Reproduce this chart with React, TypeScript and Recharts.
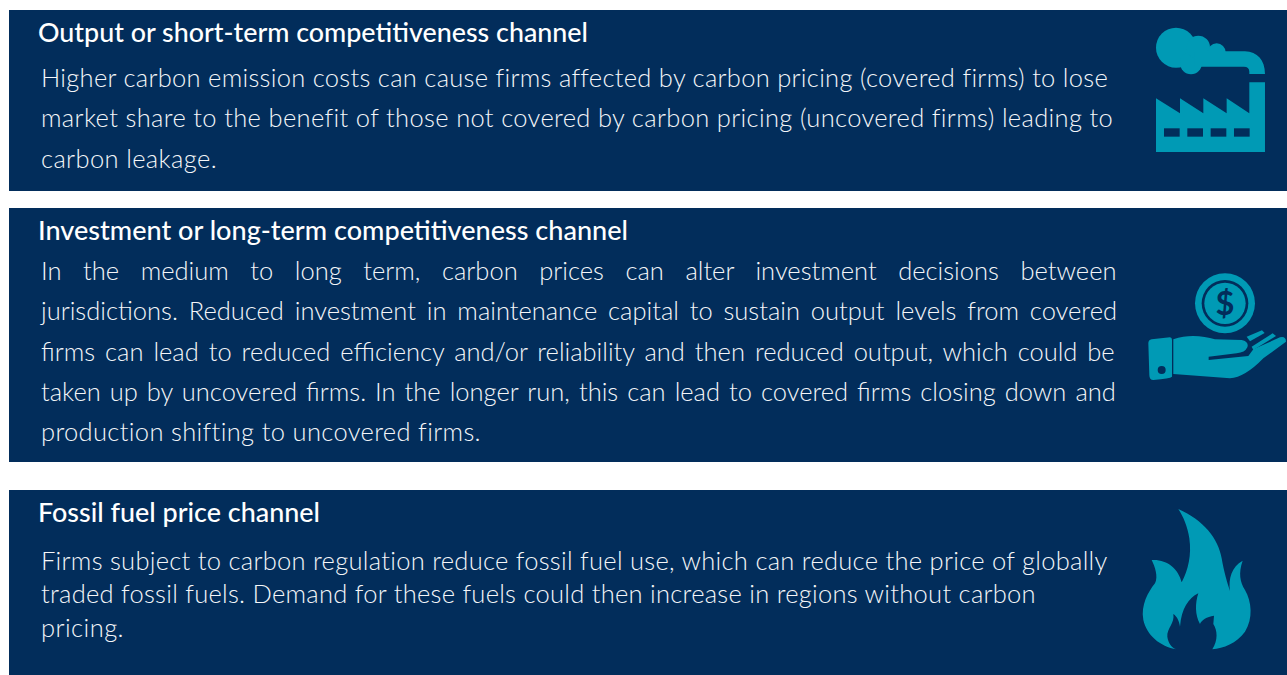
import React from 'react';
import { BarChart, Bar, XAxis, YAxis } from 'recharts';

const NAVY = '#022d5b';
const TEAL = '#009ab5';
const BODY_FONT = 'Lato';
const BODY_SIZE = 25.5;
const BODY_WEIGHT = 300;

// stacked from the bottom of the page upwards: pixel-high bands
const panelBand = [185, 254, 181];
const gapBand = [28, 17, 10];

const headings = [
  'Fossil fuel price channel',
  'Investment or long-term competitiveness channel',
  'Output or short-term competitiveness channel',
];

const bodyLines = [
  [
    'Firms subject to carbon regulation reduce fossil fuel use, which can reduce the price of globally',
    'traded fossil fuels. Demand for these fuels could then increase in regions without carbon',
    'pricing.',
  ],
  [
    'In the medium to long term, carbon prices can alter investment decisions between',
    'jurisdictions. Reduced investment in maintenance capital to sustain output levels from covered',
    'firms can lead to reduced efficiency and/or reliability and then reduced output, which could be',
    'taken up by uncovered firms. In the longer run, this can lead to covered firms closing down and',
    'production shifting to uncovered firms.',
  ],
  [
    'Higher carbon emission costs can cause firms affected by carbon pricing (covered firms) to lose',
    'market share to the benefit of those not covered by carbon pricing (uncovered firms) leading to',
    'carbon leakage.',
  ],
];

// layout per panel, offsets from the panel's top edge
const headingLayout = [
  { dy: 32, width: 282 },
  { dy: 32, width: 590 },
  { dy: 32, width: 550 },
];
const bodyLayout = [
  { dy: [80, 113, 147], right: [1109, 1037, 124], justified: [false, false, false] },
  { dy: [72, 112, 153, 193, 233], right: [1117, 1117, 1117, 1117, 480], justified: [true, true, true, true, false] },
  { dy: [77, 117, 158], right: [1107, 1113, 217], justified: [false, false, false] },
];

const tableRow: Record<string, number | string> = { name: 'panels' };
panelBand.forEach((h, i) => {
  tableRow[`panel${i}`] = h;
  tableRow[`gap${i}`] = gapBand[i];
});
const table = [tableRow];

const ctx = document.createElement('canvas').getContext('2d');

// spacing that makes a line end where it ends in the picture
const fitStyle = (line: string, width: number, justified: boolean) => {
  if (!ctx) return {};
  ctx.font = `${BODY_WEIGHT} ${BODY_SIZE}px ${BODY_FONT}`;
  const extra = width - ctx.measureText(line).width;
  if (justified) return { wordSpacing: extra / (line.split(' ').length - 1) };
  return { letterSpacing: extra / line.length };
};

const FactoryIcon = () => (
  <g transform="translate(1120,10) scale(0.3333)" fill={TEAL}>
    <circle cx={168} cy={113} r={60} />
    <circle cx={213} cy={160} r={33} />
    <circle cx={235} cy={112} r={35} />
    <circle cx={290} cy={127} r={27} />
    <path d="M225 124 L375 124 C412 126 435 150 435 192 L388 192 L388 185 C388 175 382 170 372 170 L225 170 Z" />
    <path d="M108 265 L180 310 L180 265 L250 310 L250 265 L320 310 L320 265 L388 310 L388 217 L435 217 L435 426 L108 426 Z" />
    {[132, 202, 272, 342].map((x) => (
      <rect key={x} x={x} y={355} width={47} height={25} fill={NAVY} />
    ))}
  </g>
);

const HandIcon = () => (
  <g transform="translate(1120,260) scale(0.3333)" fill={TEAL}>
    <circle cx={315} cy={130} r={90} />
    <circle cx={315} cy={130} r={70} fill={NAVY} />
    <circle cx={315} cy={130} r={62} />
    <text x={315} y={164} textAnchor="middle" fontFamily="Lato" fontWeight={700} fontSize={98} fill={NAVY}>$</text>
    <path d="M95 238 L150 232 Q156 232 156 240 L156 350 Q150 356 100 360 Q88 360 88 345 L85 250 Q85 240 95 238 Z" />
    <path d="M160 238 C205 222 250 228 285 238 L365 240 Q388 245 382 262 Q375 278 350 280 L266 290 L266 300 L385 288 L400 268 L480 232 Q498 228 498 245 L430 295 Q375 352 330 355 L160 342 Z" />
    <path d="M380 230 L426 211 L434 219 L390 244 Z" />
    <path d="M395 260 L458 220 L468 228 L400 270 Z" />
    <circle cx={125} cy={330} r={12} fill={NAVY} />
  </g>
);

const FlameIcon = () => (
  <g transform="translate(1120,495) scale(0.3333)" fill={TEAL}>
    <path d="M175 42 C250 75 295 130 305 190 C312 230 322 265 330 288 C325 250 335 215 368 197 C355 235 360 260 375 285 C395 320 400 370 375 410 C350 445 310 460 277 463 C295 435 292 405 280 387 L282 362 C260 365 245 375 240 387 C225 360 225 325 235 295 C205 310 185 340 180 395 C178 380 172 365 160 357 C165 385 140 400 142 425 C145 445 155 458 170 463 C120 455 80 420 70 375 C62 330 85 290 105 265 C115 245 105 215 95 195 C140 192 175 220 185 262 C205 225 215 180 208 130 C203 95 190 65 175 42 Z" />
  </g>
);

const icons = [FlameIcon, HandIcon, FactoryIcon];

const PanelShape = (props: any) => {
  const { x, y, width, height, idx } = props;
  const Icon = icons[idx];
  const head = headingLayout[idx];
  const body = bodyLayout[idx];
  return (
    <g>
      <rect x={x} y={y} width={width} height={height} fill={NAVY} />
      <text
        x={38}
        y={y + head.dy}
        fill="#ffffff"
        fontFamily="Lato"
        fontWeight={500}
        fontSize={26}
        textLength={head.width}
        lengthAdjust="spacingAndGlyphs"
      >
        {headings[idx]}
      </text>
      {bodyLines[idx].map((line, i) => (
        <text
          key={line}
          x={41}
          y={y + body.dy[i]}
          fill="#f4f6f9"
          fontFamily={BODY_FONT}
          fontWeight={BODY_WEIGHT}
          fontSize={BODY_SIZE}
          style={fitStyle(line, body.right[i] - 41, body.justified[i])}
        >
          {line}
        </text>
      ))}
      <Icon />
    </g>
  );
};

export default function App() {
  return (
    <div style={{ position: 'absolute', left: 0, top: 0, width: 1287, height: 675, background: '#ffffff' }}>
      <BarChart
        width={1287}
        height={675}
        data={table}
        margin={{ top: 0, right: 0, bottom: 0, left: 9 }}
        barCategoryGap={0}
      >
        <XAxis dataKey="name" hide />
        <YAxis hide domain={[0, 675]} />
        {panelBand.map((_, i) => [
          <Bar
            key={`panel${i}`}
            dataKey={`panel${i}`}
            stackId="page"
            isAnimationActive={false}
            shape={(p: any) => <PanelShape {...p} idx={i} />}
          />,
          <Bar
            key={`gap${i}`}
            dataKey={`gap${i}`}
            stackId="page"
            isAnimationActive={false}
            fill="#ffffff"
          />,
        ])}
      </BarChart>
    </div>
  );
}
